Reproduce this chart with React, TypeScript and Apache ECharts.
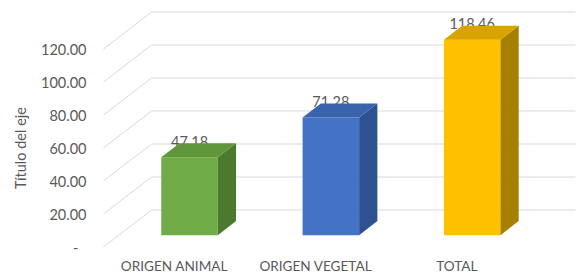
import React, { useEffect, useRef } from "react";
import * as echarts from "echarts";

const categories = ["ORIGEN ANIMAL", "ORIGEN VEGETAL", "TOTAL"];
const values = [47.18, 71.28, 118.46];
const tickValues = [0, 20, 40, 60, 80, 100, 120];
const frontColors = ["#70AD47", "#4472C4", "#FFC000"];
const topColors = ["#5F963B", "#3A63AE", "#D9A400"];
const sideColors = ["#4B7A2E", "#2E5190", "#A88000"];
const axisTitle = "Título del eje";

const DX = 48;
const DY = 37;
const F1 = 0.32;
const F2 = 0.7;

export default function App() {
  const ref = useRef<HTMLDivElement>(null);
  useEffect(() => {
    if (!ref.current) return;
    const chart = echarts.init(ref.current, null, { renderer: "svg" });
    const font = "Lato, 'Open Sans', sans-serif";
    chart.setOption({
      animation: false,
      backgroundColor: "#ffffff",
      grid: { left: 103.5, right: 54.5, top: 49, bottom: 29, containLabel: false },
      xAxis: {
        type: "category",
        data: categories,
        axisLine: { show: false },
        axisTick: { show: false },
        axisLabel: { color: "#595959", fontSize: 13.6, fontFamily: font, margin: 12, interval: 0, hideOverlap: false },
      },
      yAxis: {
        type: "value",
        min: 0,
        max: 120,
        interval: 20,
        name: axisTitle,
        nameLocation: "middle",
        nameRotate: 90,
        nameGap: 76,
        nameTextStyle: { color: "#595959", fontSize: 14.5, fontFamily: font },
        axisLine: { show: false },
        axisTick: { show: false },
        splitLine: { show: false },
        axisLabel: {
          color: "#595959",
          fontSize: 14.5,
          fontFamily: font,
          margin: 17,
          formatter: (v: number) => (v === 0 ? "{d|-}" : v.toFixed(2)),
          rich: { d: { color: "#595959", fontSize: 14.5, fontFamily: font, padding: [0, 8, 0, 0] } },
        },
      },
      series: [
        {
          type: "custom",
          z: 1,
          clip: false,
          silent: true,
          data: tickValues.map((v) => [0, v]),
          encode: { x: 0, y: 1 },
          renderItem: (params: any, api: any) => {
            const cs = params.coordSys;
            const y = api.coord([0, api.value(1)])[1];
            const x0 = cs.x;
            const x1 = cs.x + cs.width;
            return {
              type: "polyline",
              shape: { points: [[x0, y], [x0 + DX, y - DY], [x1 + DX, y - DY]] },
              style: { stroke: "#D9D9D9", lineWidth: 1, fill: null },
            };
          },
        },
        {
          type: "custom",
          z: 2,
          clip: false,
          silent: true,
          data: values.map((v, i) => [i, v]),
          encode: { x: 0, y: 1 },
          renderItem: (params: any, api: any) => {
            const i = api.value(0);
            const v = api.value(1);
            const base = api.coord([i, 0]);
            const topPt = api.coord([i, v]);
            const w = api.size([1, 0])[0] * 0.4;
            const cx = base[0] + F1 * DX;
            const xl = cx - w / 2;
            const xr = cx + w / 2;
            const yb = base[1] - F1 * DY;
            const yt = topPt[1] - F1 * DY;
            const ddx = (F2 - F1) * DX;
            const ddy = (F2 - F1) * DY;
            return {
              type: "group",
              children: [
                {
                  type: "text",
                  style: {
                    text: v.toFixed(2),
                    x: cx,
                    y: yt - 16,
                    align: "center",
                    verticalAlign: "middle",
                    fill: "#595959",
                    fontSize: 14.5,
                    fontFamily: font,
                  },
                },
                {
                  type: "rect",
                  shape: { x: xl, y: yt, width: w, height: yb - yt },
                  style: { fill: frontColors[i] },
                },
                {
                  type: "polygon",
                  shape: { points: [[xr, yt], [xr + ddx, yt - ddy], [xr + ddx, yb - ddy], [xr, yb]] },
                  style: { fill: sideColors[i] },
                },
                {
                  type: "polygon",
                  shape: { points: [[xl, yt], [xl + ddx, yt - ddy], [xr + ddx, yt - ddy], [xr, yt]] },
                  style: { fill: topColors[i] },
                },
              ],
            };
          },
        },
      ],
    });
    return () => chart.dispose();
  }, []);
  return <div ref={ref} style={{ width: 582, height: 276, position: "absolute", left: 0, top: 0 }} />;
}
